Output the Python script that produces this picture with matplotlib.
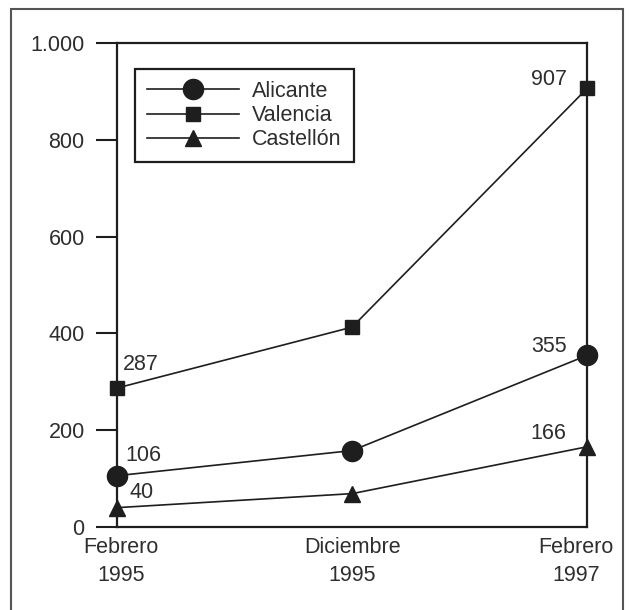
import matplotlib
matplotlib.use("Agg")
import matplotlib.pyplot as plt
import matplotlib.transforms as mtransforms
from matplotlib.patches import Rectangle

# Data
fechas = ["Febrero\n1995", "Diciembre\n1995", "Febrero\n1997"]
alicante = [106, 158, 355]
valencia = [287, 413, 907]
castellon = [40, 69, 166]
y_ticks = [0, 200, 400, 600, 800, 1000]
y_labels = ["0", "200", "400", "600", "800", "1.000"]

plt.rcParams['font.family'] = ['Liberation Sans', 'DejaVu Sans']
text_col = '#2e2e2e'
line_col = '#1e1e1e'

fig = plt.figure(figsize=(6.29, 6.10), dpi=100)
ax = fig.add_axes([0.1855, 0.136, 0.7485, 0.7935])

x = list(range(len(fechas)))
series = [
    ("Alicante", alicante, 'o', 14.5),
    ("Valencia", valencia, 's', 10.5),
    ("Castellón", castellon, '^', 12),
]
for name, vals, mk, ms in series:
    ax.plot(x, vals, color=line_col, linewidth=1.2, marker=mk, markersize=ms,
            markerfacecolor=line_col, markeredgecolor=line_col, label=name,
            clip_on=False, zorder=3)

# value labels at first and last point
labels = [
    (0, valencia[0], (4.5, 17), 'left'),
    (0, alicante[0], (6, 14.5), 'left'),
    (0, castellon[0], (9, 11), 'left'),
    (2, valencia[2], (-15, 6), 'right'),
    (2, alicante[2], (-15, 6.5), 'right'),
    (2, castellon[2], (-15, 9.5), 'right'),
]
for xi, v, off, ha in labels:
    ax.annotate(str(v), (xi, v), xytext=off, textcoords='offset points',
                ha=ha, va='center', fontsize=15.5, color=text_col)

ax.set_xlim(0, 2)
ax.set_ylim(0, 1000)
ax.set_xticks(x)
ax.set_xticklabels(fechas, fontsize=15.5, color=text_col, linespacing=1.45)
ax.set_yticks(y_ticks)
ax.set_yticklabels(y_labels, fontsize=15.5, color=text_col)
ax.tick_params(axis='y', direction='out', length=15, width=1.5, pad=8, color=line_col)
ax.tick_params(axis='x', length=0, pad=7)
for s in ax.spines.values():
    s.set_linewidth(1.6)
    s.set_color(line_col)

# nudge outer x labels inward like the original
xl = ax.get_xticklabels()
xl[0].set_transform(xl[0].get_transform() + mtransforms.ScaledTranslation(3 / 72, 0, fig.dpi_scale_trans))
xl[-1].set_transform(xl[-1].get_transform() + mtransforms.ScaledTranslation(-8 / 72, 0, fig.dpi_scale_trans))

leg = ax.legend(loc='upper left', bbox_to_anchor=(0.039, 0.946), borderaxespad=0,
                fontsize=15.5, fancybox=False, edgecolor=line_col, framealpha=1,
                handlelength=4.3, handletextpad=0.6, labelspacing=0.15,
                borderpad=0.55)
leg.get_frame().set_linewidth(1.6)
for t in leg.get_texts():
    t.set_color(text_col)

# outer frame of the figure
fig.patches.append(Rectangle((0.0175, -0.01), 0.9725, 0.995, transform=fig.transFigure,
                             fill=False, edgecolor='#555555', linewidth=1.5))

fig.savefig("out.png", dpi=100)
